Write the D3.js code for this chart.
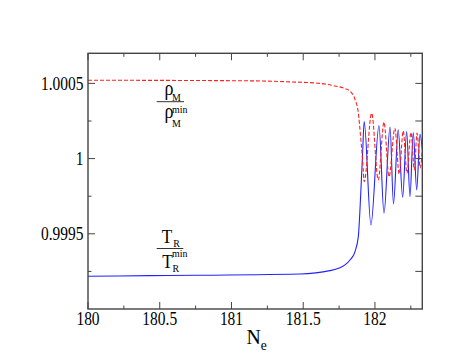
<!DOCTYPE html>
<html>
<head>
<meta charset="utf-8">
<script src="https://cdn.jsdelivr.net/npm/d3@7"></script>
<style>
  body { margin: 0; background: #fff; }
</style>
</head>
<body>
<svg></svg>
<script>
// values
const rhoN = [180, 181.129, 181.408, 181.617, 181.721, 181.791, 181.826, 181.861, 181.884, 181.9, 181.914,
              181.925, 181.977, 182.023, 182.063, 182.098, 182.139, 182.169, 182.197, 182.223, 182.251,
              182.275, 182.293, 182.316, 182.33];
const rhoV = [1.000521, 1.000517, 1.00051, 1.0005, 1.000483, 1.000466, 1.000448, 1.000394, 1.000304, 1.000146, 0.999991,
              0.999847, 1.000302, 0.999858, 1.000242, 0.99988, 1.000202, 0.999898, 1.000184, 0.999903, 1.000173,
              0.999925, 1.000169, 0.999938, 1.00006];
const tN = [180, 180.432, 181.477, 181.686, 181.791, 181.826, 181.861, 181.884, 181.9, 181.914,
            181.925, 181.972, 182.028, 182.063, 182.105, 182.129, 182.162, 182.193, 182.221, 182.244,
            182.267, 182.291, 182.314, 182.33];
const tV = [0.999218, 0.999222, 0.999233, 0.999255, 0.999293, 0.999326, 0.999382, 0.999481, 0.999747, 1.000038,
            1.000246, 0.999559, 1.000219, 0.999637, 1.000209, 0.999699, 1.000191, 0.999743, 1.00018, 0.999747,
            1.000173, 0.999792, 1.000162, 1.00006];

const xMajor = [180, 180.5, 181, 181.5, 182];
const xLabels = ["180", "180.5", "181", "181.5", "182"];
const xMinor = [180.25, 180.75, 181.25, 181.75, 182.25];
const yMajor = [0.9995, 1, 1.0005];
const yLabels = ["0.9995", "1", "1.0005"];
const yMinor = [0.99925, 0.99975, 1.00025];

const width = 471;
const height = 364;
const pLeft = 88, pRight = 422.3, pTop = 53.3, pBottom = 309;
const serif = "'Liberation Serif', 'DejaVu Serif', serif";

const svg = d3.select("svg")
              .attr("width", width)
              .attr("height", height)
              .attr("font-family", serif);

const x = d3.scaleLinear().domain([180, 182.33]).range([pLeft, pRight]);
const y = d3.scaleLinear().domain([0.999, 1.0007]).range([pBottom, pTop]);

svg.append("clipPath").attr("id", "plot")
  .append("rect")
    .attr("x", pLeft).attr("y", pTop)
    .attr("width", pRight - pLeft).attr("height", pBottom - pTop);

const line = d3.line()
    .x(d => x(d[0]))
    .y(d => y(d[1]))
    .curve(d3.curveMonotoneX);

const g = svg.append("g").attr("clip-path", "url(#plot)");

g.append("path")
    .datum(tN.map((n, i) => [n, tV[i]]))
    .attr("d", line)
    .attr("fill", "none")
    .attr("stroke", "#2222ff")
    .attr("stroke-width", 1.1);

g.append("path")
    .datum(rhoN.map((n, i) => [n, rhoV[i]]))
    .attr("d", line)
    .attr("fill", "none")
    .attr("stroke", "#ff2020")
    .attr("stroke-width", 1.1)
    .attr("stroke-dasharray", "4,2");

// frame + ticks (all inward)
const axisColor = "#444";
const ticks = svg.append("g").attr("stroke", axisColor).attr("stroke-width", 1);

function xTick(v, len) {
  ticks.append("line").attr("x1", x(v)).attr("x2", x(v)).attr("y1", pBottom).attr("y2", pBottom - len);
  ticks.append("line").attr("x1", x(v)).attr("x2", x(v)).attr("y1", pTop).attr("y2", pTop + len);
}
xMajor.forEach(v => xTick(v, 7));
xMinor.forEach(v => xTick(v, 3.5));

function yTick(v, len, rlen) {
  ticks.append("line").attr("x1", pLeft).attr("x2", pLeft + len).attr("y1", y(v)).attr("y2", y(v));
  ticks.append("line").attr("x1", pRight).attr("x2", pRight - rlen).attr("y1", y(v)).attr("y2", y(v));
}
yMajor.forEach(v => yTick(v, 7, 7));
yMinor.forEach(v => yTick(v, 3.5, 7));

svg.append("rect")
    .attr("x", pLeft).attr("y", pTop)
    .attr("width", pRight - pLeft).attr("height", pBottom - pTop)
    .attr("fill", "none")
    .attr("stroke", axisColor)
    .attr("stroke-width", 1.4);

// tick labels, slightly condensed like the original
svg.selectAll(".xl")
  .data(xMajor)
  .enter()
  .append("text")
    .attr("class", "xl")
    .attr("text-anchor", "middle")
    .attr("font-size", 18)
    .attr("transform", d => "translate(" + x(d) + "," + 325 + ") scale(0.86,1)")
    .text((d, i) => xLabels[i]);

svg.selectAll(".yl")
  .data(yMajor)
  .enter()
  .append("text")
    .attr("class", "yl")
    .attr("text-anchor", "end")
    .attr("font-size", 18)
    .attr("transform", d => "translate(" + 83.5 + "," + (y(d) + 6.3) + ") scale(0.86,1)")
    .text((d, i) => yLabels[i]);

// axis title N_e
const title = svg.append("text")
    .attr("transform", "translate(246.5,344) scale(0.9,1)")
    .attr("font-size", 22);
title.append("tspan").text("N");
title.append("tspan").attr("font-size", 15).attr("dy", 6).text("e");

// fraction labels
function label(px, py, str, size, sx) {
  svg.append("text")
      .attr("transform", "translate(" + px + "," + py + ") scale(" + (sx || 0.9) + ",1)")
      .attr("font-size", size)
      .text(str);
}
function bar(x1, x2, yy) {
  svg.append("line")
      .attr("x1", x1).attr("x2", x2).attr("y1", yy).attr("y2", yy)
      .attr("stroke", "#333").attr("stroke-width", 1);
}

label(164.5, 94.5, "ρ", 20);
label(172, 100.7, "M", 11);
bar(156.7, 184, 101.7);
label(164.5, 117.8, "ρ", 20);
label(172, 112.7, "min", 11);
label(172, 126.7, "M", 11);

label(161.7, 243.3, "T", 19);
label(173.3, 246.8, "R", 11);
bar(156.7, 183.3, 248.5);
label(162.3, 268.3, "T", 19);
label(172, 257.3, "min", 11);
label(172.5, 272.3, "R", 11);
</script>
</body>
</html>
